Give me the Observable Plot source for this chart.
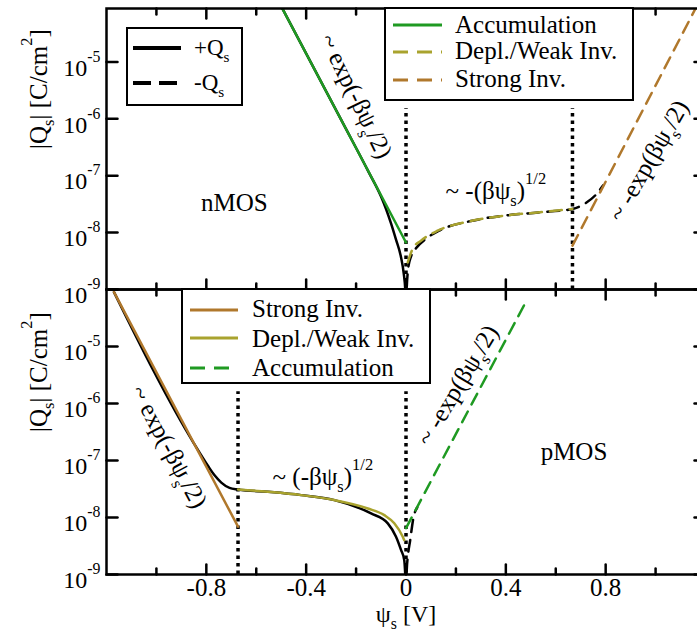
<!DOCTYPE html>
<html><head><meta charset="utf-8">
<script src="https://cdn.jsdelivr.net/npm/d3@7"></script>
<script src="https://cdn.jsdelivr.net/npm/@observablehq/plot@0.6"></script>
<style>
html,body{margin:0;padding:0;background:#fff;overflow:hidden}
#wrap{position:relative;width:697px;height:634px;overflow:hidden;background:#fff}
#wrap svg{position:absolute;left:0;top:0;max-width:none !important;background:transparent !important}
#wrap svg, #wrap text, #wrap tspan{font-family:"Liberation Serif","Times New Roman",Times,serif !important}
</style></head><body><div id="wrap"></div>
<script>
// ---------- axes ----------
const xDomain = [-1.2, 1.2];
const yDomainN = [1e-9, 8.7e-5];
const yDomainP = [1e-9, 1e-4];
const xMajorTicks = [-0.8, -0.4, 0, 0.4, 0.8];
const xMinorTicks = [-1.0, -0.6, -0.2, 0.2, 0.6, 1.0];
const xTickLabels = [-0.8, -0.4, 0, 0.4, 0.8];
const yTicks = [1e-9, 1e-8, 1e-7, 1e-6, 1e-5, 1e-4];
const yTickLabels = [1e-9, 1e-8, 1e-7, 1e-6, 1e-5];
const xTitle = "ψ_{s} [V]";
const yTitle = "|Q_{s}| [C/cm^{2}]";

// ---------- nMOS (top) ----------
const nPosPsi = [-0.5, -0.25, -0.15, -0.1, -0.08, -0.06, -0.04, -0.02, -0.009, -0.003, 0];
const nPosQ   = [9.5e-5, 8.0e-7, 1.17e-7, 4.3e-8, 2.6e-8, 1.45e-8, 7.5e-9, 3.7e-9, 1.9e-9, 1.0e-9, 5e-10];
const nNegPsi = [0, 0.003, 0.008, 0.02, 0.04, 0.08, 0.13, 0.26, 0.39, 0.53, 0.667, 0.72, 0.76, 0.79];
const nNegQ   = [5e-10, 1.1e-9, 2.2e-9, 3.8e-9, 5.3e-9, 7.8e-9, 1.07e-8, 1.6e-8, 1.98e-8, 2.26e-8, 2.6e-8, 3.3e-8, 4.6e-8, 6.8e-8];
const nAccPsi = [-0.5, 0.0];
const nAccQ   = [9.5e-5, 6.7e-9];
const nDepPsi = [0.007, 0.027, 0.06, 0.127, 0.26, 0.392, 0.527, 0.667];
const nDepQ   = [3.0e-9, 5.2e-9, 7.2e-9, 1.08e-8, 1.6e-8, 1.98e-8, 2.26e-8, 2.6e-8];
const nStrPsi = [0.667, 1.16];
const nStrQ   = [5.9e-9, 8.7e-5];
const nDotPsi = [0, 0.667];
const nDotQ   = [1.5e-6, 1.5e-6];
const nAnnText = ["~ exp(-βψ_{s}/2)", "nMOS", "~ -(βψ_{s})^{1/2}", "~ -exp(βψ_{s}/2)"];
const nAnnPsi  = [-0.2, -0.688, 0.36, 0.972];
const nAnnQ    = [2.5e-6, 3.36e-8, 5.4e-8, 1.83e-7];
const nAnnRot  = [64, 0, 0, -60];

// ---------- pMOS (bottom) ----------
const pPosPsi = [-1.17, -0.85, -0.793, -0.767, -0.74, -0.707, -0.673, -0.553, -0.42, -0.287, -0.14, -0.073, -0.04, -0.02, -0.007, -0.003, 0];
const pPosQ   = [9.0e-5, 2.0e-7, 8.0e-8, 5.5e-8, 4.1e-8, 3.3e-8, 3.1e-8, 2.82e-8, 2.47e-8, 2.02e-8, 1.18e-8, 7.9e-9, 4.6e-9, 2.7e-9, 1.8e-9, 1.0e-9, 5e-10];
const pNegPsi = [0, 0.003, 0.008, 0.016, 0.03, 0.045];
const pNegQ   = [5e-10, 1.2e-9, 2.2e-9, 3.8e-9, 1.0e-8, 1.5e-8];
const pStrPsi = [-1.17, -0.673];
const pStrQ   = [9.0e-5, 6.9e-9];
const pDepPsi = [-0.673, -0.553, -0.42, -0.287, -0.153, -0.087, -0.047, -0.013, -0.007];
const pDepQ   = [3.1e-8, 2.82e-8, 2.47e-8, 2.02e-8, 1.44e-8, 1.1e-8, 7.9e-9, 4.6e-9, 4.0e-9];
const pAccPsi = [0, 0.487];
const pAccQ   = [6.5e-9, 6.9e-5];
const pDotPsi = [-0.673, 0];
const pDotQ   = [1.6e-6, 1.6e-6];
const pAnnText = ["~ exp(-βψ_{s}/2)", "~ (-βψ_{s})^{1/2}", "~ -exp(βψ_{s}/2)", "pMOS"];
const pAnnPsi  = [-0.95, -0.333, 0.207, 0.673];
const pAnnQ    = [1.74e-7, 5.2e-8, 2.09e-6, 1.41e-7];
const pAnnRot  = [62, 0, -59, 0];

// ---------- legends ----------
const legSignLabels = ["+Q_{s}", "-Q_{s}"];
const legNLabels = ["Accumulation", "Depl./Weak Inv.", "Strong Inv."];
const legPLabels = ["Strong Inv.", "Depl./Weak Inv.", "Accumulation"];

// ---------- styling ----------
const FONT = '"Liberation Serif", "Times New Roman", Times, serif';
const GREEN = "#1f9a22", OLIVE = "#a9a32e", BROWN = "#b0782c", BLACK = "#000";
const DASH = "12,8";
const SW = 2.5;
const FS = 25;

const rows = (psi, q) => psi.map((p, i) => ({psi: p, q: q[i]}));
const line = (psi, q, stroke, dash) => Plot.line(rows(psi, q), {
  x: "psi", y: "q", stroke, strokeWidth: SW, strokeDasharray: dash, clip: true, curve: "monotone-x"
});
const tickShape = {draw(ctx, l) { ctx.moveTo(0, 0); ctx.lineTo(0, -l); }};

function frameTicks(yDom) {
  const yt = yTicks.filter(v => v >= yDom[0] * 0.999 && v <= yDom[1] * 1.001);
  const c = {shape: tickShape, anchor: "start", stroke: "black", strokeWidth: 2.5};
  return [
    Plot.vectorX(xMajorTicks, {...c, frameAnchor: "bottom", length: 10, rotate: 0}),
    Plot.vectorX(xMinorTicks, {...c, frameAnchor: "bottom", length: 6, rotate: 0}),
    Plot.vectorX(xMajorTicks, {...c, frameAnchor: "top", length: 10, rotate: 180}),
    Plot.vectorX(xMinorTicks, {...c, frameAnchor: "top", length: 6, rotate: 180}),
    Plot.vectorY(yt, {...c, frameAnchor: "left", length: 11, rotate: 90}),
    Plot.vectorY(yt, {...c, frameAnchor: "right", length: 11, rotate: -90})
  ];
}
const powFmt = d => `10^{${Math.round(Math.log10(d))}}`;

function dots(psi, q, yDom) {
  return Plot.ruleX(psi.map((p, i) => ({psi: p, q1: yDom[0], q2: q[i]})), {
    x: "psi", y1: "q1", y2: "q2", stroke: "black", strokeWidth: 3.5, strokeDasharray: "3.5,4"
  });
}
function ann(text, psi, q, rot) {
  return Plot.text(text.map((t, i) => ({t, psi: psi[i], q: q[i], r: rot[i]})), {
    x: "psi", y: "q", text: "t", rotate: "r", fontSize: FS, fill: "black"
  });
}

const common = {
  width: 705, height: 634, marginLeft: 106, marginRight: 0,
  style: {fontFamily: FONT, color: "black", background: "transparent"},
  x: {domain: xDomain, axis: null}
};

const plotN = Plot.plot({
  ...common, marginTop: 8, marginBottom: 345,
  y: {type: "log", domain: yDomainN, axis: null},
  marks: [
    dots(nDotPsi, nDotQ, yDomainN),
    line(nPosPsi, nPosQ, BLACK),
    line(nNegPsi, nNegQ, BLACK, DASH),
    line(nAccPsi, nAccQ, GREEN),
    line(nDepPsi, nDepQ, OLIVE, DASH),
    line(nStrPsi, nStrQ, BROWN, DASH),
    ann(nAnnText, nAnnPsi, nAnnQ, nAnnRot),
    Plot.axisY(yTickLabels, {tickSize: 0, tickPadding: 6, tickFormat: powFmt, fontSize: 24, dy: 6, label: null}),
    Plot.text([yTitle], {text: d => d, frameAnchor: "left", dx: -68, rotate: -90, fontSize: FS}),
    ...frameTicks(yDomainN),
    Plot.frame({stroke: "black", strokeWidth: 2.5})
  ]
});

const plotP = Plot.plot({
  ...common, marginTop: 289, marginBottom: 60,
  y: {type: "log", domain: yDomainP, axis: null},
  marks: [
    dots(pDotPsi, pDotQ, yDomainP),
    line(pPosPsi, pPosQ, BLACK),
    line(pNegPsi, pNegQ, BLACK, DASH),
    line(pStrPsi, pStrQ, BROWN),
    line(pDepPsi, pDepQ, OLIVE),
    line(pAccPsi, pAccQ, GREEN, DASH),
    ann(pAnnText, pAnnPsi, pAnnQ, pAnnRot),
    Plot.axisY(yTickLabels, {tickSize: 0, tickPadding: 6, tickFormat: powFmt, fontSize: 24, dy: 6, label: null}),
    Plot.axisX(xTickLabels, {tickSize: 0, tickPadding: 4, tickFormat: d => String(d), fontSize: FS, label: null}),
    Plot.text([yTitle], {text: d => d, frameAnchor: "left", dx: -68, rotate: -90, fontSize: FS}),
    Plot.text([xTitle], {text: d => d, frameAnchor: "bottom", dy: 47, fontSize: 24}),
    ...frameTicks(yDomainP),
    Plot.frame({stroke: "black", strokeWidth: 2.5})
  ]
});

const wrap = document.getElementById("wrap");
wrap.appendChild(plotN);
wrap.appendChild(plotP);

// ---------- legends overlay ----------
const ov = d3.select(wrap).append("svg").attr("width", 697).attr("height", 634)
  .attr("font-family", FONT);
function legend(box, labels, colors, dashes, o) {
  const [x, y, w, h] = box;
  ov.append("rect").attr("x", x).attr("y", y).attr("width", w).attr("height", h)
    .attr("fill", "white").attr("stroke", "black").attr("stroke-width", 2);
  labels.forEach((lab, i) => {
    ov.append("line").attr("x1", o.x1).attr("x2", o.x2).attr("y1", o.ly[i]).attr("y2", o.ly[i])
      .attr("stroke", colors[i]).attr("stroke-width", o.sw)
      .attr("stroke-dasharray", dashes[i] ? o.dash : null);
    ov.append("text").attr("x", o.tx).attr("y", o.ty[i]).attr("font-size", o.fs)
      .attr("font-family", FONT).text(lab);
  });
}
legend([127, 28, 115, 77], legSignLabels, [BLACK, BLACK], [false, true],
  {x1: 133, x2: 181, ly: [48, 83], tx: 194, ty: [55, 90], fs: 23, sw: 4, dash: "18,8"});
legend([385, 8, 248, 92], legNLabels, [GREEN, OLIVE, BROWN], [false, true, true],
  {x1: 393, x2: 442, ly: [25, 52, 80], tx: 455, ty: [33, 59, 87], fs: FS, sw: 3, dash: "15,9"});
legend([182, 289, 248, 94], legPLabels, [BROWN, OLIVE, GREEN], [false, false, true],
  {x1: 190, x2: 238, ly: [310, 338, 368], tx: 252, ty: [317, 347, 376], fs: FS, sw: 3, dash: "15,9"});

// ---------- rich text (sub/superscripts) ----------
const NS = "http://www.w3.org/2000/svg";
wrap.querySelectorAll("text").forEach(t => {
  const s = t.textContent;
  if (!/[_^]\{/.test(s)) return;
  const fs = parseFloat(getComputedStyle(t).fontSize) || 20;
  const parts = [];
  const re = /([_^])\{([^}]*)\}/g;
  let last = 0, m;
  while ((m = re.exec(s))) {
    if (m.index > last) parts.push({t: s.slice(last, m.index), k: ""});
    parts.push({t: m[2], k: m[1]});
    last = re.lastIndex;
  }
  if (last < s.length) parts.push({t: s.slice(last), k: ""});
  while (t.firstChild) t.removeChild(t.firstChild);
  let shift = 0;
  for (const p of parts) {
    const ts = document.createElementNS(NS, "tspan");
    const target = p.k === "^" ? -0.58 * fs : p.k === "_" ? 0.3 * fs : 0;
    if (target !== shift) ts.setAttribute("dy", (target - shift).toFixed(2));
    shift = target;
    if (p.k) ts.setAttribute("font-size", (0.66 * fs).toFixed(1));
    ts.textContent = p.t;
    t.appendChild(ts);
  }
});
</script></body></html>
